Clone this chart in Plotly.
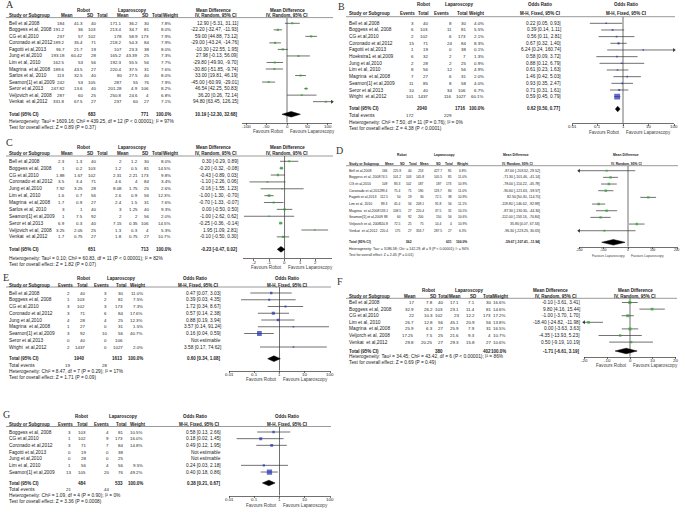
import math
import plotly.graph_objects as go

W, H = 686, 525
SANS = "Liberation Sans, Arial, sans-serif"
SERIF = "Liberation Serif, Times New Roman, serif"
TXT = "#222222"
LINE = "#333333"
GREEN = "#2aa52a"
BLUE = "#1f2fb5"

# ---------------- DATA ----------------
# A: mean difference
A_study = ["Bell et al,2008", "Boggess et al, 2008", "CG et al,2010", "Coronado et al,2012",
           "Fagotti et al,2013", "Jung et al,2010", "Lim et al, 2010", "Magrina  et al,2008",
           "Sarlos et al, 2010", "Seamon[1] et al,2009", "Seror et al,2013", "Veljovich et al, 2008",
           "Venkat  et al,2012"]
A_rob_mean = [184, 191.2, 237, 189.2, 96.7, 193.18, 162.5, 189.6, 113, 242, 247.82, 287, 331.8]
A_rob_sd = [41.3, 36, 57, 35.4, 21.7, 60.42, 53, 43.5, 32.5, 53, 13.6, 60, 67.5]
A_rob_n = [40, 103, 102, 71, 19, 28, 56, 27, 40, 105, 40, 25, 27]
A_lap_mean = [171.1, 213.4, 178, 218.2, 107, 165.2, 192.3, 220.4, 80, 287, 201.28, 250.8, 237]
A_lap_sd = [36.2, 34.7, 58.9, 54.3, 23.3, 43.39, 55.5, 37.5, 27.5, 55, 4.9, 24.6, 60]
A_lap_n = [30, 81, 173, 84, 38, 25, 56, 31, 40, 76, 106, 4, 27]
A_weight = [7.8, 8.0, 7.9, 7.9, 8.0, 7.3, 7.7, 7.6, 8.0, 7.9, 8.2, 6.8, 7.1]
A_est = [12.90, -22.20, 59.00, -29.00, -10.30, 27.98, -29.80, -30.80, 33.00, -45.00, 46.54, 36.20, 94.80]
A_lo = [-5.31, -32.47, 44.88, -43.24, -22.55, -0.13, -49.90, -51.85, 19.81, -60.99, 42.25, 0.26, 63.45]
A_hi = [31.11, -11.93, 73.12, -14.76, 1.95, 56.09, -9.70, -9.74, 46.19, -29.01, 50.83, 72.14, 126.15]
A_total = [683, 771]
A_pooled = [10.19, -12.30, 32.68]
A_het = "Heterogeneity: Tau² = 1609.16; Chi² = 439.25, df = 12 (P < 0.00001); I² = 97%"
A_test = "Test for overall effect: Z = 0.89 (P = 0.37)"
A_ticks = [-100, -50, 0, 50, 100]

# B: odds ratio
B_study = ["Bell et al,2008", "Boggess et al, 2008", "CG et al,2010", "Coronado et al,2012",
           "Fagotti et al,2013", "Hoekstra1 et al,2009", "Jung et al,2010", "Lim et al, 2010",
           "Magrina  et al,2008", "Seamon[1] et al,2009", "Seror et al,2013", "Wright  et al,2012"]
B_rob_ev = [3, 6, 2, 15, 1, 6, 2, 8, 7, 11, 10, 101]
B_rob_n = [40, 103, 102, 71, 19, 32, 28, 56, 27, 85, 40, 1437]
B_lap_ev = [8, 11, 6, 24, 0, 2, 2, 12, 6, 8, 34, 116]
B_lap_n = [30, 81, 173, 84, 38, 7, 25, 56, 31, 58, 106, 1027]
B_weight = [4.0, 5.5, 2.1, 8.3, 0.1, 1.3, 0.9, 4.9, 2.0, 4.0, 6.7, 60.1]
B_est = [0.22, 0.39, 0.56, 0.67, 6.24, 0.58, 0.88, 0.61, 1.46, 0.93, 0.71, 0.59]
B_lo = [0.05, 0.14, 0.11, 0.32, 0.24, 0.09, 0.12, 0.23, 0.42, 0.35, 0.31, 0.45]
B_hi = [0.93, 1.11, 2.81, 1.40, 160.74, 3.72, 6.79, 1.63, 5.03, 2.47, 1.61, 0.79]
B_total = [2040, 1716]
B_events = [172, 229]
B_pooled = [0.62, 0.50, 0.77]
B_het = "Heterogeneity: Chi² = 7.50, df = 11 (P = 0.76); I² = 0%"
B_test = "Test for overall effect: Z = 4.38 (P < 0.0001)"

# C: mean difference
C_study = ["Bell et al,2008", "Boggess et al, 2008", "CG et al,2010", "Coronado et al,2012",
           "Jung et al,2010", "Lim et al, 2010", "Magrina  et al,2008", "Sarlos et al, 2010",
           "Seamon[1] et al,2009", "Seror et al,2013", "Veljovich et al, 2008", "Venkat  et al,2012"]
C_rob_mean = [2.3, 1, 1.88, 3.5, 7.92, 1.6, 1.7, 3, 1, 6.9, 3.25, 1.7]
C_rob_sd = [1.3, 0.2, 1.67, 3.4, 3.25, 0.7, 0.9, 1, 7.5, 0.3, 2.05, 0.75]
C_rob_n = [40, 103, 102, 71, 28, 56, 27, 40, 92, 40, 25, 27]
C_lap_mean = [2, 1.2, 2.31, 4.6, 8.08, 2.6, 2.4, 3, 2, 7.15, 1.3, 1.8]
C_lap_sd = [1.2, 0.5, 2.21, 4, 1.75, 0.9, 1.5, 1.25, 2, 0.35, 0.3, 0.75]
C_lap_n = [30, 81, 173, 84, 25, 56, 31, 40, 56, 106, 4, 27]
C_weight = [8.0, 14.5, 9.8, 3.4, 2.6, 12.3, 7.6, 9.3, 2.0, 14.5, 5.3, 10.7]
C_est = [0.30, -0.20, -0.43, -1.10, -0.16, -1.00, -0.70, 0.00, -1.00, -0.25, 1.95, -0.10]
C_lo = [-0.29, -0.32, -0.89, -2.26, -1.55, -1.30, -1.33, -0.50, -2.62, -0.36, 1.09, -0.50]
C_hi = [0.89, -0.08, 0.03, 0.06, 1.23, -0.70, -0.07, 0.50, 0.62, -0.14, 2.81, 0.30]
C_total = [651, 713]
C_pooled = [-0.23, -0.47, 0.02]
C_het = "Heterogeneity: Tau² = 0.10; Chi² = 60.83, df = 11 (P < 0.00001); I² = 82%"
C_test = "Test for overall effect: Z = 1.82 (P = 0.07)"
C_ticks = [-2, -1, 0, 1, 2]

# D: mean difference
D_study = ["Bell et al,2008", "Boggess et al, 2008", "CG et al,2010", "Coronado et al,2012",
           "Fagotti et al,2013", "Lim et al, 2010", "Magrina  et al,2008", "Seamon[1] et al,2009",
           "Veljovich et al, 2008", "Venkat  et al,2012"]
D_rob_mean = [166, 74.5, 109, 99.4, 112.5, 89.3, 133.1, 88, 110.8, 220.4]
D_rob_sd = [225.9, 101.2, 83.3, 75.4, 50, 45.4, 108.5, 60, 72.5, 175]
D_rob_n = [40, 103, 102, 71, 19, 56, 27, 92, 25, 27]
D_lap_mean = [253, 145.8, 187, 190, 30, 209.1, 220.4, 200, 75, 316.7]
D_lap_sd = [427.7, 105.5, 187, 119.7, 72.5, 91.8, 37.5, 150, 14.4, 287.5]
D_lap_n = [81, 81, 173, 84, 38, 56, 31, 56, 4, 27]
D_weight = [6.8, 11.0, 10.9, 11.0, 10.9, 11.1, 10.5, 10.6, 10.9, 6.3]
D_est = [-87.00, -71.30, -78.00, -90.60, 82.50, -119.80, -87.30, -112.00, 35.80, -96.30]
D_lo = [-203.52, -101.46, -110.22, -121.63, 50.30, -146.62, -130.30, -153.16, 4.07, -223.25]
D_hi = [29.52, -41.14, -45.78, -59.57, 114.70, -92.98, -44.30, -70.84, 67.53, 30.65]
D_total = [562, 631]
D_pooled = [-59.67, -107.41, -11.94]
D_het = "Heterogeneity: Tau² = 5186.58; Chi² = 142.29, df = 9 (P < 0.00001); I² = 94%"
D_test = "Test for overall effect: Z = 2.45 (P = 0.01)"
D_ticks = [-200, -100, 0, 100, 200]

# E: odds ratio
E_study = ["Bell et al,2008", "Boggess et al, 2008", "CG et al,2010", "Coronado et al,2012",
           "Jung et al,2010", "Magrina  et al,2008", "Seamon[1] et al,2009", "Seror et al,2013",
           "Wright  et al,2012"]
E_rob_ev = [2, 1, 3, 3, 4, 1, 3, 0, 2]
E_rob_n = [40, 103, 102, 71, 28, 27, 92, 40, 1437]
E_lap_ev = [3, 2, 3, 6, 4, 0, 10, 0, 0]
E_lap_n = [30, 81, 173, 84, 25, 31, 56, 106, 1027]
E_weight = [11.0, 7.5, 7.3, 17.6, 12.3, 1.5, 40.7, None, 2.0]
E_est = [0.47, 0.39, 1.72, 0.57, 0.88, 3.57, 0.16, None, 3.58]
E_lo = [0.07, 0.03, 0.34, 0.14, 0.19, 0.14, 0.04, None, 0.17]
E_hi = [3.03, 4.35, 8.67, 2.38, 3.94, 91.24, 0.59, None, 74.62]
E_total = [1940, 1613]
E_events = [19, 28]
E_pooled = [0.60, 0.34, 1.08]
E_het = "Heterogeneity: Chi² = 8.47, df = 7 (P = 0.29); I² = 17%"
E_test = "Test for overall effect: Z = 1.71 (P = 0.09)"

# F: mean difference
F_study = ["Bell et al,2008", "Boggess et al, 2008", "CG et al,2010", "Lim et al, 2010",
           "Magrina  et al,2008", "Veljorch et al, 2008", "Venkat  et al,2012"]
F_rob_mean = [17, 32.9, 22, 26.7, 25.9, 17.25, 29.8]
F_rob_sd = [7.8, 26.2, 10.3, 12.8, 6.3, 7.5, 20.25]
F_rob_n = [40, 103, 102, 56, 27, 25, 27]
F_lap_mean = [17.1, 23.1, 23, 45.1, 25.9, 21.6, 29.3]
F_lap_sd = [7.1, 11.4, 12.2, 20.9, 7.9, 9.3, 15.8]
F_lap_n = [30, 81, 173, 56, 31, 4, 27]
F_weight = [16.6, 14.6, 17.2, 13.8, 16.5, 10.7, 10.6]
F_est = [-0.10, 9.80, -1.00, -18.40, 0.00, -4.35, 0.50]
F_lo = [-3.61, 4.16, -3.70, -24.82, -3.63, -13.93, -9.19]
F_hi = [3.41, 15.44, 1.70, -11.98, 3.63, 5.23, 10.19]
F_total = [380, 402]
F_pooled = [-1.71, -6.61, 3.19]
F_het = "Heterogeneity: Tau² = 34.45; Chi² = 43.42, df = 6 (P < 0.00001); I² = 86%"
F_test = "Test for overall effect: Z = 0.69 (P = 0.49)"
F_ticks = [-20, -10, 0, 10, 20]

# G: odds ratio
G_study = ["Boggess et al, 2008", "CG et al,2010", "Coronado et al,2012", "Fagotti et al,2013",
           "Jung et al,2010", "Lim et al, 2010", "Seamon[1] et al,2009"]
G_rob_ev = [3, 1, 3, 0, 0, 1, 13]
G_rob_n = [103, 102, 71, 19, 28, 56, 105]
G_lap_ev = [4, 9, 7, 0, 0, 4, 20]
G_lap_n = [81, 173, 84, 38, 25, 56, 76]
G_weight = [10.5, 16.0, 14.8, None, None, 9.5, 49.2]
G_est = [0.58, 0.18, 0.49, None, None, 0.24, 0.40]
G_lo = [0.13, 0.02, 0.12, None, None, 0.03, 0.18]
G_hi = [2.66, 1.45, 1.95, None, None, 2.18, 0.86]
G_total = [484, 533]
G_events = [21, 44]
G_pooled = [0.38, 0.21, 0.67]
G_het = "Heterogeneity: Chi² = 1.09, df = 4 (P = 0.90); I² = 0%"
G_test = "Test for overall effect: Z = 3.36 (P = 0.0008)"

OR_ticks = [0.01, 0.1, 1, 10, 100]
FAV_RL = ["Favours Robot", "Favours Laparoscopy"]
FAV_LL = ["Favours Laparoscopy", "Favours Laparoscopy"]

CONT_HDR = ["Mean", "SD", "Total", "Mean", "SD", "Total", "Weight"]
DICH_HDR = ["Events", "Total", "Events", "Total", "Weight"]

# ---------------- LAYOUT (pixel geometry of each panel) ----------------
CONT_CV = [65.7, 84, 97.3, 123.3, 138.7, 149.7, 171.7, 239.3]
CONT_CH = [66.7, 90.3, 101.7, 123.3, 145, 156.7, 170.3, 215.7]

PANELS = [
    dict(letter="A", kind="cont", ox=0, lab=(10, 5), sc=1.0, h1=10, h2=15.3, ul=17.6, y0=23.3, dy=6.53,
         total=114.3, het=121.7, test=127.3, axis=122.7, fav=131.5, sx=8,
         cv=CONT_CV, ch=CONT_CH, ha="center", grp=[83, 132, 213, 287], plot=(242, 332), xr=[-110, 110], log=False,
         measure="Mean Difference", method="IV, Random, 95% CI", color=GREEN,
         study=A_study, cols=[A_rob_mean, A_rob_sd, A_rob_n, A_lap_mean, A_lap_sd, A_lap_n],
         weight=A_weight, est=A_est, lo=A_lo, hi=A_hi, total_n=A_total, events=None,
         pooled=A_pooled, het_t=A_het, test_t=A_test, ticks=A_ticks, favs=FAV_RL),
    dict(letter="B", kind="dich", ox=343, lab=(341, 6), sc=1.0, h1=4.3, h2=13.7, ul=16.7, y0=23.3, dy=6.67,
         total=109, tev=115.7, het=122.7, test=128.3, axis=123.3, fav=132.0, sx=5,
         cv=[71.7, 86, 110, 124, 141.7, 219.3], ch=[72.7, 85.5, 107, 125, 141.7, 197.3], ha="right",
         grp=[80, 116.7, 196.7, 282.7], plot=(229, 331), xr=[-2, 2], log=True,
         measure="Odds Ratio", method="M-H, Fixed, 95% CI", color=BLUE,
         study=B_study, cols=[B_rob_ev, B_rob_n, B_lap_ev, B_lap_n],
         weight=B_weight, est=B_est, lo=B_lo, hi=B_hi, total_n=B_total, events=B_events,
         pooled=B_pooled, het_t=B_het, test_t=B_test, ticks=OR_ticks, favs=FAV_RL),
    dict(letter="C", kind="cont", ox=0, lab=(9, 142), sc=1.0, h1=147.3, h2=153.8, ul=156, y0=161.3, dy=6.87,
         total=249.3, het=258.3, test=264, axis=258.3, fav=267.5, sx=8,
         cv=CONT_CV, ch=CONT_CH, ha="center", grp=[83, 132, 213, 287], plot=(243, 332), xr=[-2.68, 3.06], log=False,
         measure="Mean Difference", method="IV, Random, 95% CI", color=GREEN,
         study=C_study, cols=[C_rob_mean, C_rob_sd, C_rob_n, C_lap_mean, C_lap_sd, C_lap_n],
         weight=C_weight, est=C_est, lo=C_lo, hi=C_hi, total_n=C_total, events=None,
         pooled=C_pooled, het_t=C_het, test_t=C_test, ticks=C_ticks, favs=FAV_RL),
    dict(letter="D", kind="cont", ox=343, lab=(339, 150), sc=0.74, h1=155, h2=163.7, ul=165.7, y0=170.7, dy=6.67,
         total=242.3, het=249.3, test=255, axis=246.7, fav=255.5, sx=5,
         cv=[46.5, 59, 70, 82.5, 100, 110, 124.5, 198.3], ch=[46.5, 59.5, 70, 81.5, 96, 106, 119.5, 174],
         ha="center", grp=[59.3, 101.7, 173.3, 283.3], plot=(236, 334), xr=[-200, 200], log=False,
         measure="Mean Difference", method="IV, Random, 95% CI", color=GREEN,
         study=D_study, cols=[D_rob_mean, D_rob_sd, D_rob_n, D_lap_mean, D_lap_sd, D_lap_n],
         weight=D_weight, est=D_est, lo=D_lo, hi=D_hi, total_n=D_total, events=None,
         pooled=D_pooled, het_t=D_het, test_t=D_test, ticks=D_ticks, favs=FAV_LL),
    dict(letter="E", kind="dich", ox=0, lab=(6, 277), sc=1.0, h1=278.5, h2=285, ul=287, y0=293, dy=6.75,
         total=358.7, tev=365.3, het=371.3, test=377.3, axis=370.7, fav=379.7, sx=8,
         cv=[71, 86, 108.3, 124, 144, 221.7], ch=[74, 87.5, 110, 127, 145.5, 198.3], ha="right",
         grp=[83.3, 121.7, 195, 286.7], plot=(229, 330), xr=[-2, 2], log=True,
         measure="Odds Ratio", method="M-H, Fixed, 95% CI", color=BLUE,
         study=E_study, cols=[E_rob_ev, E_rob_n, E_lap_ev, E_lap_n],
         weight=E_weight, est=E_est, lo=E_lo, hi=E_hi, total_n=E_total, events=E_events,
         pooled=E_pooled, het_t=E_het, test_t=E_test, ticks=OR_ticks, favs=FAV_RL),
    dict(letter="F", kind="cont", ox=343, lab=(340, 281), sc=1.0, h1=290.7, h2=296.2, ul=298.3, y0=302.5, dy=6.6,
         total=351, het=356.7, test=362.3, axis=356.7, fav=365.5, sx=5,
         cv=[71.7, 90.7, 101, 116.7, 132.7, 149, 164, 238], ch=[66.7, 90, 99.5, 112, 130.7, 145, 157.5, 213],
         ha="center", grp=[85, 126.7, 207, 292], plot=(241, 333), xr=[-20.4, 20.4], log=False,
         measure="Mean Difference", method="IV, Random, 95% CI", color=GREEN,
         study=F_study, cols=[F_rob_mean, F_rob_sd, F_rob_n, F_lap_mean, F_lap_sd, F_lap_n],
         weight=F_weight, est=F_est, lo=F_lo, hi=F_hi, total_n=F_total, events=None,
         pooled=F_pooled, het_t=F_het, test_t=F_test, ticks=F_ticks, favs=FAV_RL),
    dict(letter="G", kind="dich", ox=0, lab=(6, 414), sc=1.0, h1=416.3, h2=424.7, ul=426.5, y0=432, dy=6.67,
         total=483, tev=489.7, het=495.7, test=501.7, axis=495.7, fav=505.0, sx=8,
         cv=[71.7, 86.7, 110, 124, 144, 221.7], ch=[74, 87.5, 110, 127, 145.5, 199], ha="right",
         grp=[81.7, 123.3, 195, 286.7], plot=(229, 330), xr=[-2, 2], log=True,
         measure="Odds Ratio", method="M-H, Fixed, 95% CI", color=BLUE,
         study=G_study, cols=[G_rob_ev, G_rob_n, G_lap_ev, G_lap_n],
         weight=G_weight, est=G_est, lo=G_lo, hi=G_hi, total_n=G_total, events=G_events,
         pooled=G_pooled, het_t=G_het, test_t=G_test, ticks=OR_ticks, favs=FAV_RL),
]

# font sizes (px) before per-panel scaling
FS_TEXT, FS_NUM, FS_BOLD, FS_TICK, FS_FAV = 4.8, 4.4, 4.5, 4.4, 4.6


def fmt(v):
    return f"{v:g}"


fig = go.Figure()


def add_panel(k, P):
    xa = "x" if k == 1 else f"x{k}"
    ya = "y" if k == 1 else f"y{k}"
    xkey = "xaxis" if k == 1 else f"xaxis{k}"
    ykey = "yaxis" if k == 1 else f"yaxis{k}"
    ox, y0, dy, sc = P["ox"], P["y0"], P["dy"], P["sc"]

    def ann(x, y, text, anchor="left", size=FS_TEXT, bold=False, color=TXT):
        fig.add_annotation(x=(ox + x) / W, y=1 - y / H, xref="paper", yref="paper",
                           text=f"<b>{text}</b>" if bold else text, showarrow=False,
                           xanchor=anchor, yanchor="middle", borderpad=0,
                           font=dict(size=size * sc, family=SANS, color=color))

    # panel letter
    fig.add_annotation(x=P["lab"][0] / W, y=1 - P["lab"][1] / H, xref="paper", yref="paper",
                       text=P["letter"], showarrow=False, xanchor="center", yanchor="middle",
                       font=dict(size=10, family=SERIF, color="#333333"))

    # headers
    g = P["grp"]
    ann(g[0], P["h1"], "Robot", "center", FS_BOLD, True)
    ann(g[1], P["h1"], "Laparoscopy", "center", FS_BOLD, True)
    ann(g[2], P["h1"], P["measure"], "center", FS_BOLD, True)
    ann(g[3], P["h1"], P["measure"], "center", FS_BOLD, True)
    ann(P["sx"], P["h2"], "Study or Subgroup", "left", FS_BOLD, True)
    hdrs = (CONT_HDR if P["kind"] == "cont" else DICH_HDR)
    for h, cx in zip(hdrs, P["ch"]):
        ann(cx, P["h2"], h, P["ha"], FS_BOLD, True)
    ann(P["ch"][-1], P["h2"], P["method"], "center", FS_BOLD, True)
    ann(g[3], P["h2"], P["method"], "center", FS_BOLD, True)
    fig.add_shape(type="line", xref="paper", yref="paper",
                  x0=(ox + P["sx"] - 2) / W, x1=(ox + P["plot"][1] + 1) / W,
                  y0=1 - P["ul"] / H, y1=1 - P["ul"] / H,
                  line=dict(color="#555555", width=0.6))

    # study rows
    cv = P["cv"]
    n = len(P["study"])
    for i in range(n):
        yp = y0 + i * dy
        ann(P["sx"], yp, P["study"][i], "left", FS_TEXT)
        for col, cx in zip(P["cols"], cv):
            ann(cx, yp, fmt(col[i]), "right", FS_NUM)
        w = P["weight"][i]
        if w is not None:
            ann(cv[-2], yp, f"{w:.1f}%", "right", FS_NUM)
        e = P["est"][i]
        ci = "Not estimable" if e is None else f"{e:.2f} [{P['lo'][i]:.2f}, {P['hi'][i]:.2f}]"
        ann(cv[-1], yp, ci, "right", FS_TEXT)

    # total rows
    tp = P["total"]
    it_r, it_l = (2, 5) if P["kind"] == "cont" else (1, 3)
    ann(P["sx"], tp, "Total (95% CI)", "left", FS_BOLD, True)
    ann(cv[it_r], tp, fmt(P["total_n"][0]), "right", FS_BOLD, True)
    ann(cv[it_l], tp, fmt(P["total_n"][1]), "right", FS_BOLD, True)
    ann(cv[-2], tp, "100.0%", "right", FS_BOLD, True)
    pe, pl_, ph = P["pooled"]
    ann(cv[-1], tp, f"{pe:.2f} [{pl_:.2f}, {ph:.2f}]", "right", FS_BOLD, True)
    if P["events"] is not None:
        ann(P["sx"], P["tev"], "Total events", "left", FS_TEXT)
        ann(cv[0], P["tev"], fmt(P["events"][0]), "right", FS_NUM)
        ann(cv[2], P["tev"], fmt(P["events"][1]), "right", FS_NUM)
    ann(P["sx"], P["het"], P["het_t"], "left", FS_TEXT)
    ann(P["sx"], P["test"], P["test_t"], "left", FS_TEXT)

    # axes
    pl, pr = P["plot"]
    xr = P["xr"]
    rb = (P["axis"] - y0) / dy
    rt = (P["ul"] - y0) / dy
    fig.update_layout(**{
        xkey: dict(domain=[(ox + pl) / W, (ox + pr) / W], anchor=ya,
                   type="log" if P["log"] else "linear", range=xr,
                   tickmode="array", tickvals=P["ticks"], showticklabels=False,
                   showline=True, linecolor=LINE, linewidth=0.7, ticks="outside", ticklen=2,
                   tickwidth=0.7, tickcolor=LINE, showgrid=False, zeroline=False, fixedrange=True,
                   automargin=False),
        ykey: dict(domain=[1 - P["axis"] / H, 1 - P["ul"] / H], anchor=xa, range=[rb, rt],
                   visible=False, fixedrange=True, showgrid=False, zeroline=False, automargin=False),
    })
    # tick labels placed just under the axis line
    for t in P["ticks"]:
        fig.add_annotation(x=math.log10(t) if P["log"] else t, xref=xa, y=1 - (P["axis"] + 3.7) / H,
                           yref="paper", text=fmt(t), showarrow=False, xanchor="center",
                           yanchor="middle", borderpad=0,
                           font=dict(size=FS_TICK * sc, family=SANS, color=TXT))

    xmin, xmax = (10 ** xr[0], 10 ** xr[1]) if P["log"] else (xr[0], xr[1])
    null = 1 if P["log"] else 0

    # null line
    fig.add_trace(go.Scatter(x=[null, null], y=[rt, rb], mode="lines", xaxis=xa, yaxis=ya,
                             line=dict(color=LINE, width=0.7), hoverinfo="skip", showlegend=False))

    lx, ly, mx, my, ms, ax_, ay_, asym = [], [], [], [], [], [], [], []
    for i in range(n):
        e = P["est"][i]
        if e is None:
            continue
        lo, hi = P["lo"][i], P["hi"][i]
        lx += [max(lo, xmin), min(hi, xmax), None]
        ly += [i, i, None]
        if lo < xmin:
            ax_.append(xmin); ay_.append(i); asym.append("triangle-left")
        if hi > xmax:
            ax_.append(xmax); ay_.append(i); asym.append("triangle-right")
        mx.append(e); my.append(i); ms.append(max(1.6, 0.75 * math.sqrt(P["weight"][i])))
    fig.add_trace(go.Scatter(x=lx, y=ly, mode="lines", xaxis=xa, yaxis=ya,
                             line=dict(color=LINE, width=0.7), hoverinfo="skip", showlegend=False))
    fig.add_trace(go.Scatter(x=mx, y=my, mode="markers", xaxis=xa, yaxis=ya,
                             marker=dict(symbol="square", size=ms, color=P["color"], line=dict(width=0)),
                             hoverinfo="skip", showlegend=False))
    if ax_:
        fig.add_trace(go.Scatter(x=ax_, y=ay_, mode="markers", xaxis=xa, yaxis=ya, cliponaxis=False,
                                 marker=dict(symbol=asym, size=3.5, color=LINE, line=dict(width=0)),
                                 hoverinfo="skip", showlegend=False))
    # pooled diamond
    rtot = (tp - y0) / dy
    hd = 0.42
    fig.add_trace(go.Scatter(x=[pl_, pe, ph, pe, pl_], y=[rtot, rtot - hd, rtot, rtot + hd, rtot],
                             mode="lines", fill="toself", fillcolor="black", xaxis=xa, yaxis=ya,
                             line=dict(color="black", width=0.5), hoverinfo="skip", showlegend=False))

    # favours labels
    frac = (0 - xr[0]) / (xr[1] - xr[0])
    npx = pl + frac * (pr - pl)
    ann(npx - 2, P["fav"], P["favs"][0], "right", FS_FAV, color="#444444")
    ann(npx + 2, P["fav"], P["favs"][1], "left", FS_FAV, color="#444444")


for k, P in enumerate(PANELS, start=1):
    add_panel(k, P)

fig.update_layout(width=W, height=H, autosize=False, margin=dict(l=0, r=0, t=0, b=0, pad=0),
                  paper_bgcolor="white", plot_bgcolor="white", showlegend=False,
                  font=dict(family=SANS, size=5, color=TXT))

fig.write_html("out.html", config={"displayModeBar": False, "staticPlot": True},
               post_script="document.body.style.margin='0px';document.body.style.padding='0px';")
